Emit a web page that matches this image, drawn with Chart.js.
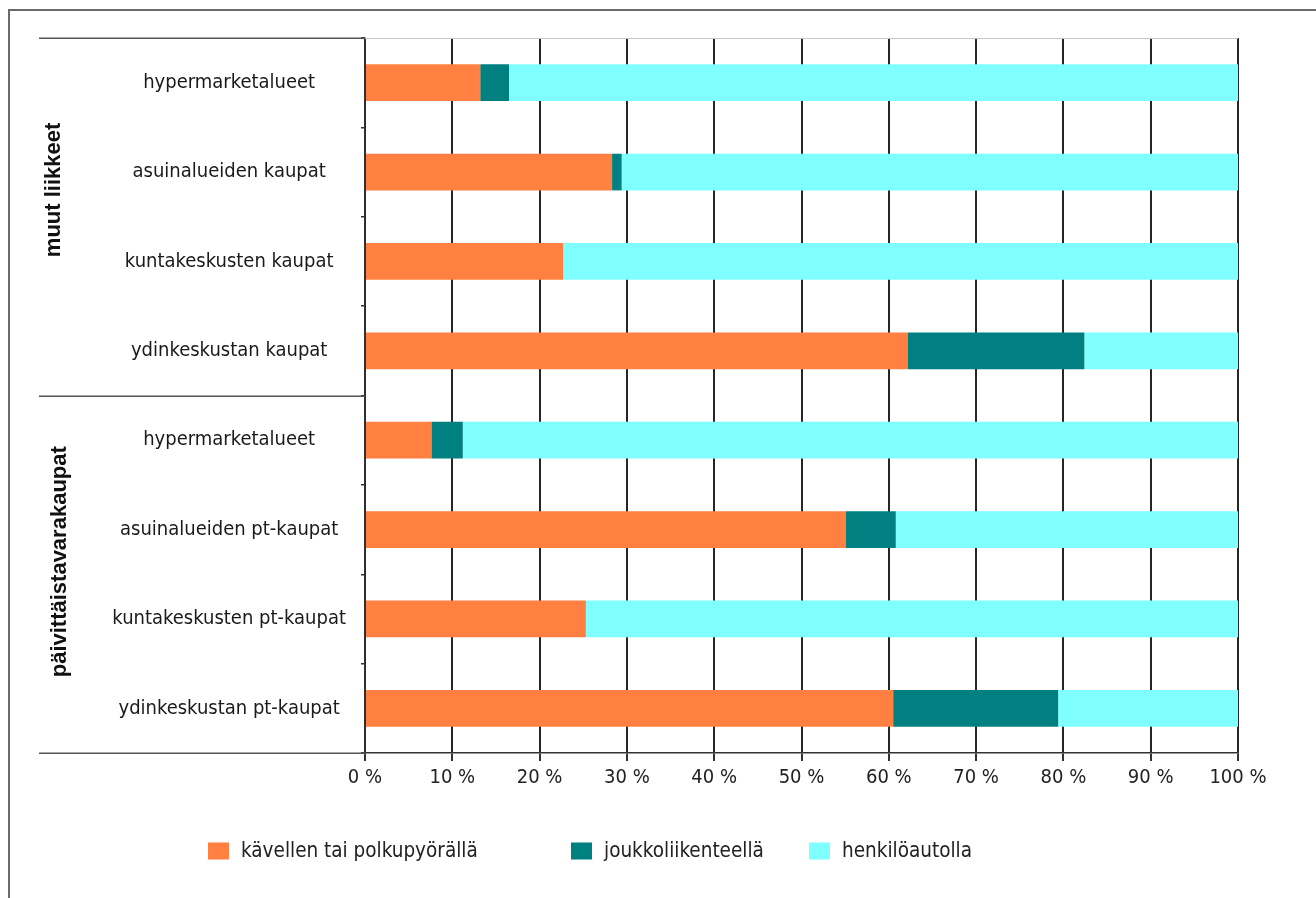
<!DOCTYPE html>
<html>
<head>
<meta charset="utf-8">
<script src="https://cdn.jsdelivr.net/npm/chart.js@4/dist/chart.umd.min.js"></script>
<style>
  html, body { margin: 0; padding: 0; background: #fff; }
  canvas { display: block; }
</style>
</head>
<body>
<canvas id="c" width="1316" height="898"></canvas>
<script>
// Kulkutapa ostosmatkalla liiketyypeittäin (%)
const categories = [
  'hypermarketalueet',
  'asuinalueiden kaupat',
  'kuntakeskusten kaupat',
  'ydinkeskustan kaupat',
  'hypermarketalueet',
  'asuinalueiden pt-kaupat',
  'kuntakeskusten pt-kaupat',
  'ydinkeskustan pt-kaupat'
];
const walkBike = [13.2, 28.3, 22.7, 62.2, 7.6, 55.1, 25.3, 60.5];
const transit  = [3.3, 1.1, 0, 20.2, 3.6, 5.7, 0, 18.9];
const car      = [83.5, 70.6, 77.3, 17.6, 88.8, 39.2, 74.7, 20.6];
const seriesNames = ['kävellen tai polkupyörällä', 'joukkoliikenteellä', 'henkilöautolla'];
const xTickLabels = ['0 %', '10 %', '20 %', '30 %', '40 %', '50 %', '60 %', '70 %', '80 %', '90 %', '100 %'];
const groupNames = ['muut liikkeet', 'päivittäistavarakaupat'];
const groupRanges = [[0, 3], [4, 7]];

const NARROW = "'Liberation Sans Narrow', 'Arial Narrow', 'DejaVu Sans Condensed', sans-serif";
const SANS = "'Liberation Sans', Arial, sans-serif";
const COLORS = ['#FF8040', '#008080', '#80FFFF'];

const layout = {
  padLeft: 39, padRight: 78, padTop: 38, padBottom: 85,
  yAxisWidth: 326, xAxisHeight: 60,
  frameX: 9, frameY: 10,
  legendY: 851, legendX: [208, 571, 809], legendBox: [21, 17], legendGap: 12,
  // group titles: vertical centre given in category units, baseline x in px
  groupTitle: [{ at: 1.2, base: 59.5 }, { at: 5.36, base: 66 }]
};

const decor = {
  id: 'decor',
  beforeDraw(chart) {
    const ctx = chart.ctx;
    ctx.save();
    ctx.fillStyle = '#fff';
    ctx.fillRect(0, 0, chart.width, chart.height);
    ctx.restore();
  },
  afterDraw(chart) {
    const ctx = chart.ctx;
    const area = chart.chartArea;
    const y = chart.scales.y;
    ctx.save();

    // outer frame (top and left edges)
    ctx.strokeStyle = '#6a6a6a';
    ctx.lineWidth = 2;
    ctx.beginPath();
    ctx.moveTo(layout.frameX, chart.height);
    ctx.lineTo(layout.frameX, layout.frameY);
    ctx.lineTo(chart.width, layout.frameY);
    ctx.stroke();

    // light top edge of the plot
    ctx.strokeStyle = '#c8c8c8';
    ctx.lineWidth = 1;
    ctx.beginPath();
    ctx.moveTo(area.left, area.top + 0.5);
    ctx.lineTo(area.right, area.top + 0.5);
    ctx.stroke();

    // horizontal rules of the label column: top, group divider, bottom
    const step = y.getPixelForValue(1) - y.getPixelForValue(0);
    const rules = [area.top, y.getPixelForValue(groupRanges[0][1]) + step / 2, area.bottom];
    ctx.strokeStyle = '#555';
    ctx.lineWidth = 1.5;
    rules.forEach(ry => {
      ctx.beginPath();
      ctx.moveTo(layout.padLeft, Math.round(ry) + 0.25);
      ctx.lineTo(area.left, Math.round(ry) + 0.25);
      ctx.stroke();
    });

    // rotated group titles
    ctx.fillStyle = '#111';
    ctx.font = 'bold 22px ' + SANS;
    ctx.textAlign = 'center';
    ctx.textBaseline = 'alphabetic';
    groupNames.forEach((name, i) => {
      const g = layout.groupTitle[i];
      const cy = y.getPixelForValue(0) + g.at * step;
      ctx.save();
      ctx.translate(g.base, cy);
      ctx.rotate(-Math.PI / 2);
      ctx.fillText(name, 0, 0);
      ctx.restore();
    });

    // legend
    ctx.font = '20.5px ' + NARROW;
    ctx.textAlign = 'left';
    ctx.textBaseline = 'middle';
    chart.data.datasets.forEach((ds, i) => {
      const lx = layout.legendX[i];
      const [bw, bh] = layout.legendBox;
      ctx.fillStyle = ds.backgroundColor;
      ctx.fillRect(lx, layout.legendY - bh / 2, bw, bh);
      ctx.fillStyle = '#222';
      ctx.fillText(ds.label, lx + bw + layout.legendGap, layout.legendY + 1);
    });

    ctx.restore();
  }
};

new Chart(document.getElementById('c'), {
  type: 'bar',
  data: {
    labels: categories,
    datasets: [
      { label: seriesNames[0], data: walkBike, backgroundColor: COLORS[0] },
      { label: seriesNames[1], data: transit, backgroundColor: COLORS[1] },
      { label: seriesNames[2], data: car, backgroundColor: COLORS[2] }
    ]
  },
  options: {
    indexAxis: 'y',
    responsive: false,
    animation: false,
    events: [],
    layout: {
      padding: { left: layout.padLeft, right: layout.padRight, top: layout.padTop, bottom: layout.padBottom }
    },
    datasets: {
      bar: { barPercentage: 0.41, categoryPercentage: 1, borderWidth: 0 }
    },
    plugins: {
      legend: { display: false },
      tooltip: { enabled: false },
      title: { display: false }
    },
    scales: {
      x: {
        stacked: true,
        min: 0,
        max: 100,
        afterFit(scale) { scale.height = layout.xAxisHeight; },
        ticks: {
          stepSize: 10,
          autoSkip: false,
          maxRotation: 0,
          padding: 5,
          color: '#222',
          font: { family: NARROW, size: 20 },
          callback: (v) => xTickLabels[Math.round(v / 10)]
        },
        grid: {
          color: '#262626',
          lineWidth: 2,
          tickLength: 8,
          tickColor: '#333',
          drawTicks: true
        },
        border: { display: true, color: '#333', width: 1.5 }
      },
      y: {
        stacked: true,
        afterFit(scale) { scale.width = layout.yAxisWidth; },
        ticks: {
          crossAlign: 'center',
          padding: 15,
          color: '#1a1a1a',
          font: { family: NARROW, size: 20 }
        },
        grid: {
          offset: true,
          drawOnChartArea: false,
          drawTicks: true,
          tickLength: 4,
          color: '#333',
          lineWidth: 1.5
        },
        border: { display: true, color: '#333', width: 1.5 }
      }
    }
  },
  plugins: [decor]
});
</script>
</body>
</html>
